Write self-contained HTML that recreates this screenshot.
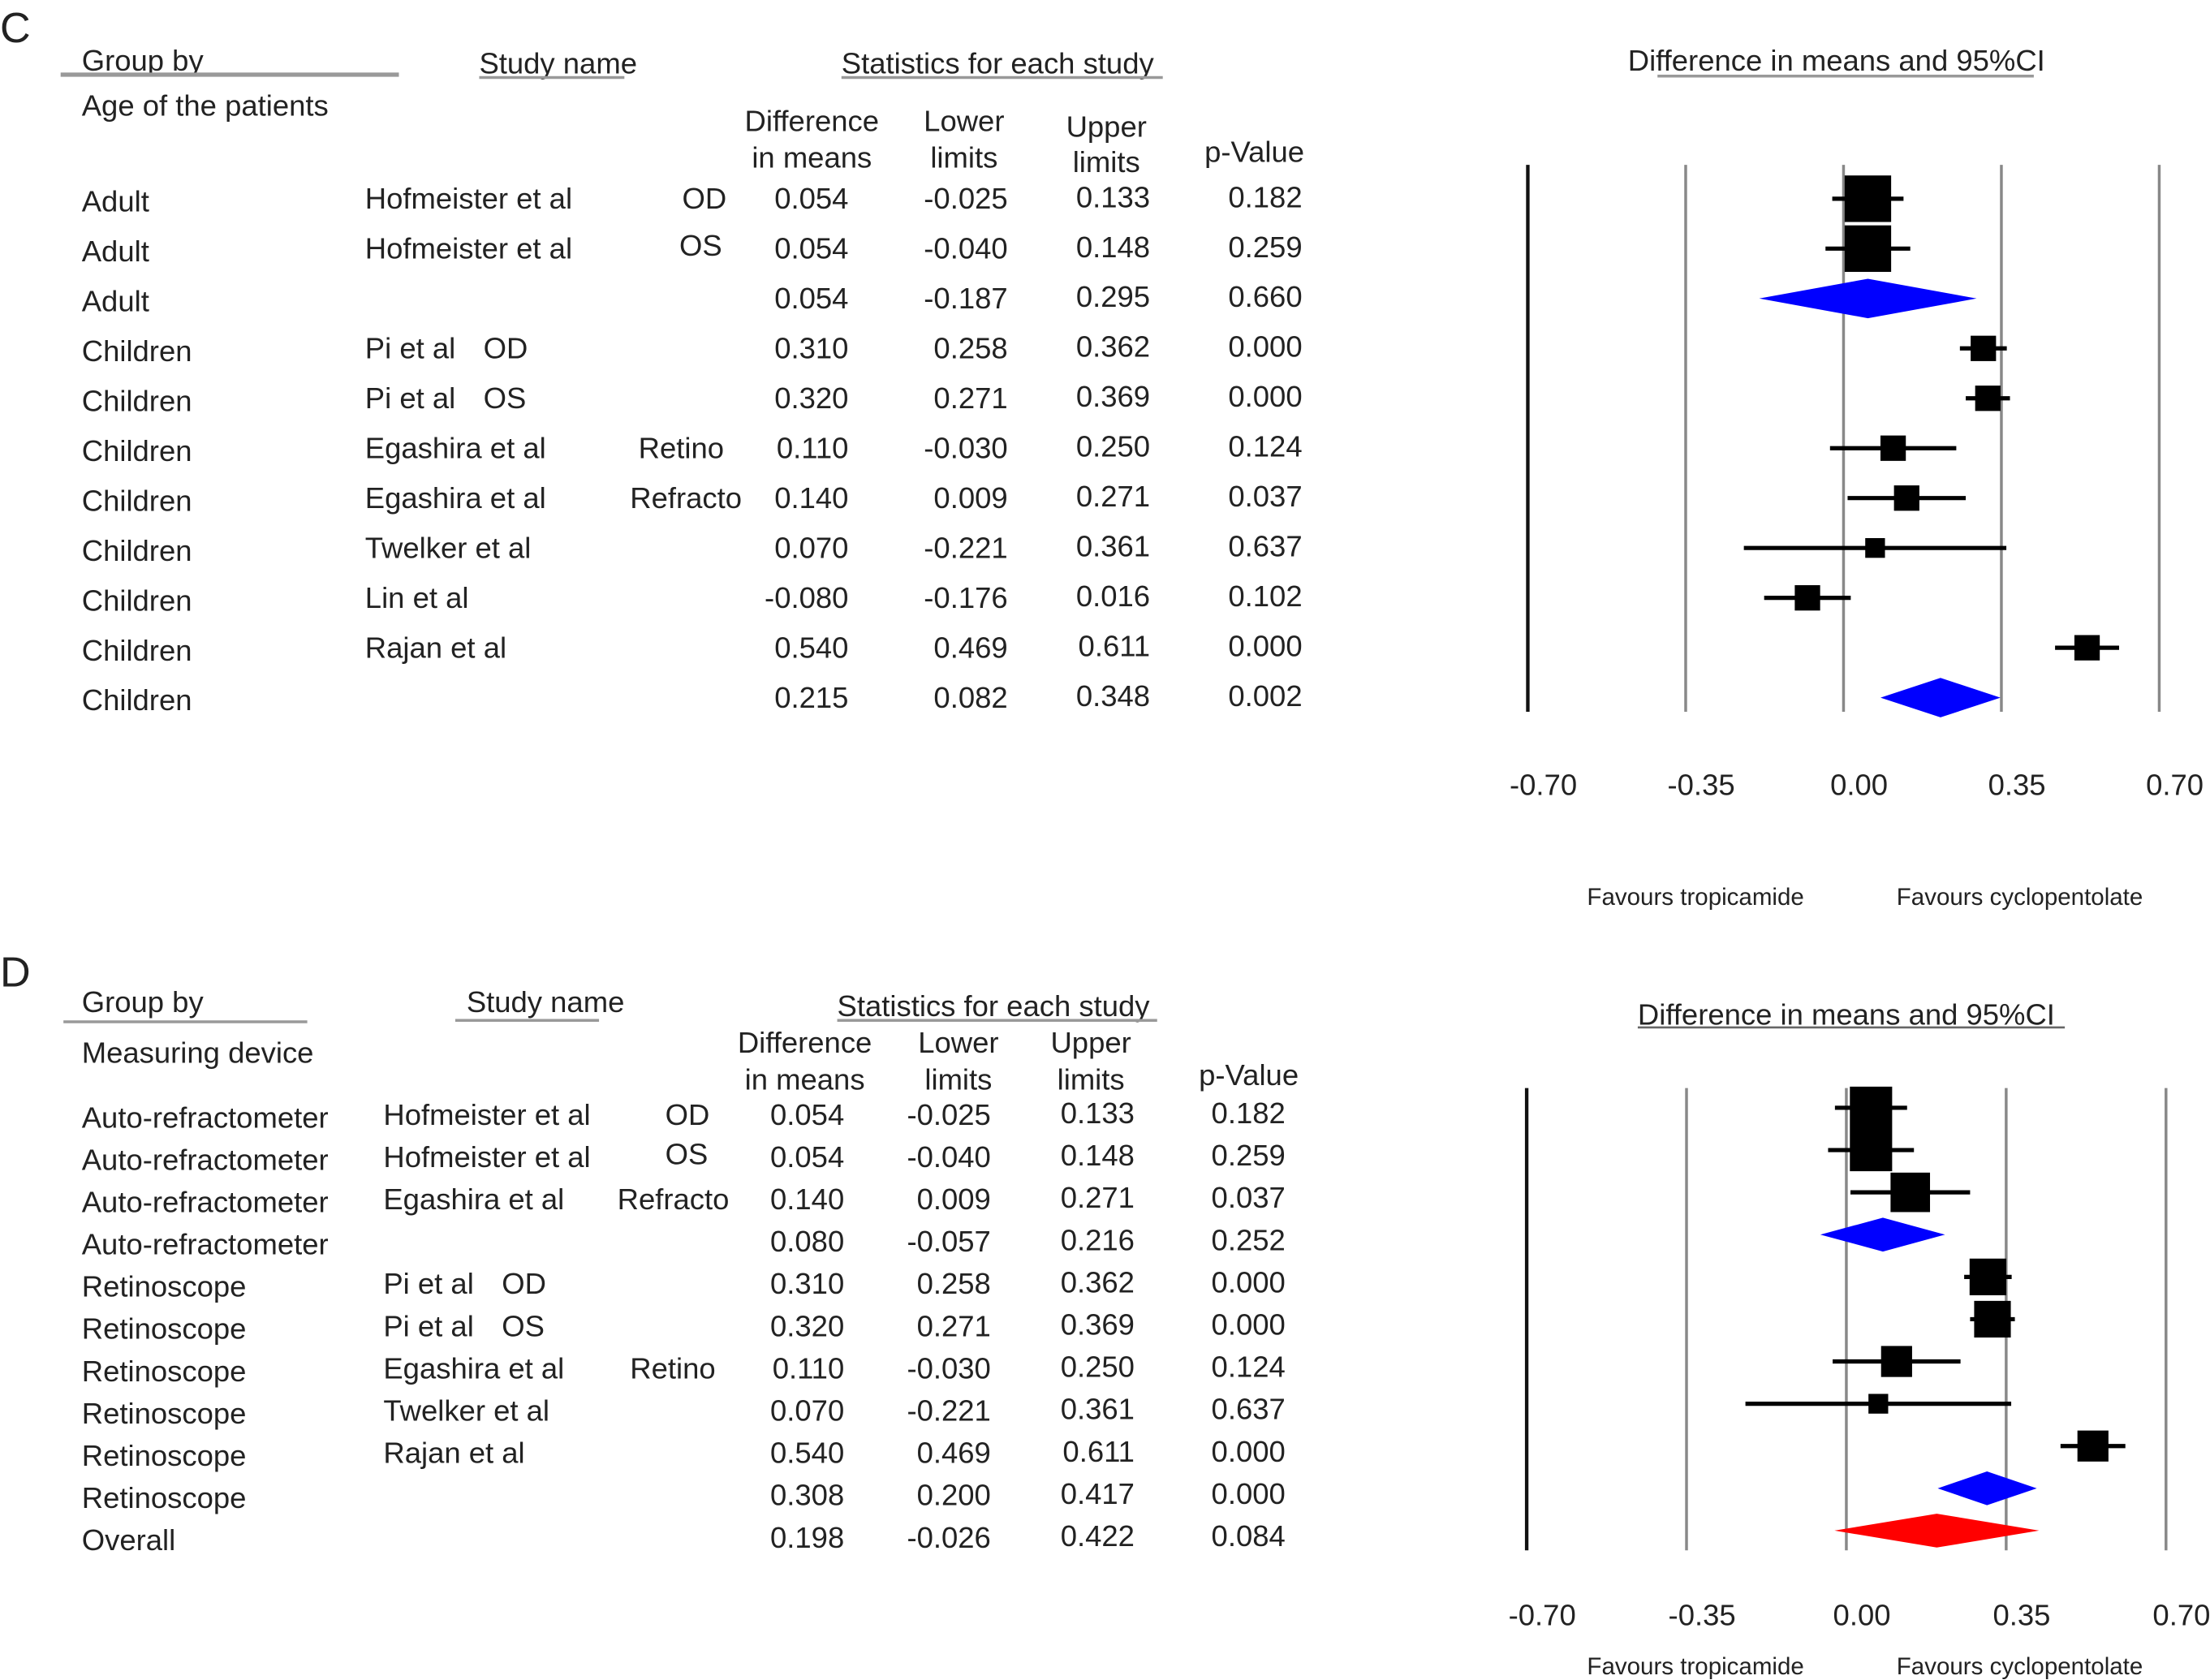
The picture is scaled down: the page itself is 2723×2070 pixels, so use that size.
<!DOCTYPE html>
<html><head><meta charset="utf-8"><style>
html,body{margin:0;padding:0;background:#fff;}
svg{display:block;font-family:"Liberation Sans",Arial,sans-serif;}
</style></head><body>
<svg id="chart" width="2723" height="2070" viewBox="0 0 1568 1192" xmlns="http://www.w3.org/2000/svg">
<g id="static" fill="#222" font-size="21">
<text x="0" y="30" font-size="30">C</text>
<text x="58" y="50">Group by</text>
<line x1="43" y1="53" x2="283" y2="53" stroke="#999" stroke-width="3"/>
<text x="58" y="82">Age of the patients</text>
<text x="340" y="52">Study name</text>
<line x1="340" y1="55" x2="443" y2="55" stroke="#999" stroke-width="2"/>
<text x="597" y="52">Statistics for each study</text>
<line x1="597" y1="55" x2="825" y2="55" stroke="#999" stroke-width="2"/>
<text x="576" y="93" text-anchor="middle">Difference</text><text x="576" y="119" text-anchor="middle">in means</text>
<text x="684" y="93" text-anchor="middle">Lower</text><text x="684" y="119" text-anchor="middle">limits</text>
<text x="785" y="97" text-anchor="middle">Upper</text><text x="785" y="122" text-anchor="middle">limits</text>
<text x="890" y="115" text-anchor="middle">p-Value</text>
<text x="1155" y="50">Difference in means and 95%CI</text>
<line x1="1176" y1="54" x2="1443" y2="54" stroke="#999" stroke-width="2"/>
<text x="1203" y="642" font-size="17" text-anchor="middle">Favours tropicamide</text>
<text x="1433" y="642" font-size="17" text-anchor="middle">Favours cyclopentolate</text>

<text x="0" y="700" font-size="30">D</text>
<text x="58" y="718">Group by</text>
<line x1="45" y1="725" x2="218" y2="725" stroke="#999" stroke-width="2"/>
<text x="58" y="754">Measuring device</text>
<text x="331" y="718">Study name</text>
<line x1="323" y1="724" x2="425" y2="724" stroke="#999" stroke-width="2"/>
<text x="594" y="721">Statistics for each study</text>
<line x1="594" y1="724" x2="821" y2="724" stroke="#999" stroke-width="2"/>
<text x="571" y="747" text-anchor="middle">Difference</text><text x="571" y="773" text-anchor="middle">in means</text>
<text x="680" y="747" text-anchor="middle">Lower</text><text x="680" y="773" text-anchor="middle">limits</text>
<text x="774" y="747" text-anchor="middle">Upper</text><text x="774" y="773" text-anchor="middle">limits</text>
<text x="886" y="770" text-anchor="middle">p-Value</text>
<text x="1162" y="727">Difference in means and 95%CI</text>
<line x1="1162" y1="729" x2="1465" y2="729" stroke="#666" stroke-width="1.5"/>
<text x="1203" y="1188" font-size="17" text-anchor="middle">Favours tropicamide</text>
<text x="1433" y="1188" font-size="17" text-anchor="middle">Favours cyclopentolate</text>
</g>
<g id="dyn"></g>
</svg>
<script>
const ticks = [-0.70, -0.35, 0.00, 0.35, 0.70];
const tickLabels = ["-0.70", "-0.35", "0.00", "0.35", "0.70"];
// Panel C
const cGroups = ["Adult","Adult","Adult","Children","Children","Children","Children","Children","Children","Children","Children"];
const cStudies = ["Hofmeister et al","Hofmeister et al","","Pi et al","Pi et al","Egashira et al","Egashira et al","Twelker et al","Lin et al","Rajan et al",""];
const cSub = ["OD","OS","","OD","OS","Retino","Refracto","","","",""];
const cDiff = [0.054,0.054,0.054,0.310,0.320,0.110,0.140,0.070,-0.080,0.540,0.215];
const cLower = [-0.025,-0.040,-0.187,0.258,0.271,-0.030,0.009,-0.221,-0.176,0.469,0.082];
const cUpper = [0.133,0.148,0.295,0.362,0.369,0.250,0.271,0.361,0.016,0.611,0.348];
const cP = ["0.182","0.259","0.660","0.000","0.000","0.124","0.037","0.637","0.102","0.000","0.002"];
const cWeight = [33,33,0,18,18,18,18,14,18,18,0];
const cKind = ["s","s","b","s","s","s","s","s","s","s","b"];
// Panel D
const dGroups = ["Auto-refractometer","Auto-refractometer","Auto-refractometer","Auto-refractometer","Retinoscope","Retinoscope","Retinoscope","Retinoscope","Retinoscope","Retinoscope","Overall"];
const dStudies = ["Hofmeister et al","Hofmeister et al","Egashira et al","","Pi et al","Pi et al","Egashira et al","Twelker et al","Rajan et al","",""];
const dSub = ["OD","OS","Refracto","","OD","OS","Retino","","","",""];
const dDiff = [0.054,0.054,0.140,0.080,0.310,0.320,0.110,0.070,0.540,0.308,0.198];
const dLower = [-0.025,-0.040,0.009,-0.057,0.258,0.271,-0.030,-0.221,0.469,0.200,-0.026];
const dUpper = [0.133,0.148,0.271,0.216,0.362,0.369,0.250,0.361,0.611,0.417,0.422];
const dP = ["0.182","0.259","0.037","0.252","0.000","0.000","0.124","0.637","0.000","0.000","0.084"];
const dWeight = [30,30,28,0,26,26,22,14,22,0,0];
const dKind = ["s","s","s","b","s","s","s","s","s","b","r"];

const NS="http://www.w3.org/2000/svg";
const root=document.getElementById('dyn');
function mk(tag,attrs,parent){const e=document.createElementNS(NS,tag);for(const k in attrs)e.setAttribute(k,attrs[k]);(parent||root).appendChild(e);return e;}
function txt(x,y,s,anchor,name){const t=mk('text',{x:x,y:y,'font-size':21,fill:'#222','text-anchor':anchor||'start'});t.textContent=s;


return t;}

function panel(p){
  const xs=v=>p.x0+v*p.ppu;
  ticks.forEach((t,i)=>{
    const l=mk('line',{x1:xs(t),x2:xs(t),y1:p.gTop,y2:p.gBot,stroke:i==0?'#111':'#888','stroke-width':i==0?2.5:2});
    
    
    txt(xs(t)+11,p.tickY,tickLabels[i],'middle','x-tick-label');
  });
  p.groups.forEach((g,i)=>{
    const y=p.row0+i*p.dy;
    txt(58,y+p.tOff,g,'start','group-label');
    if(p.studies[i]) txt(p.studyX,y+p.tOff-2,p.studies[i],'start','study-name');
    if(p.sub[i]){
      if(p.studies[i].startsWith('Pi')) txt(p.studyX+84,y+p.tOff-2,p.sub[i],'start','eye-label');
      else txt(p.subPos[p.sub[i]],y+p.tOff-2+(p.sub[i]=='OS'?-2:0),p.sub[i],'start','subgroup-label');
    }
    txt(p.cols[0],y+p.tOff-2,p.diff[i].toFixed(3),'end','diff-value');
    txt(p.cols[1],y+p.tOff-2,p.lower[i].toFixed(3),'end','lower-value');
    txt(p.cols[2],y+p.tOff-3,p.upper[i].toFixed(3),'end','upper-value');
    txt(p.cols[3],y+p.tOff-3,p.p[i],'end','p-value');
    const k=p.kind[i];
    if(k=='s'){
      const l=mk('line',{x1:xs(p.lower[i]),x2:xs(p.upper[i]),y1:y,y2:y,stroke:'#000','stroke-width':3});
      
      
      const w=p.weight[i];
      const r=mk('rect',{x:xs(p.diff[i])-w/2,y:y-w/2,width:w,height:w,fill:'#000'});
      
      
    } else {
      const h=p.dh, c=k=='b'?'#0000ff':'#ff0000';
      const d=mk('polygon',{points:`${xs(p.lower[i])},${y} ${xs(p.diff[i])},${y-h} ${xs(p.upper[i])},${y} ${xs(p.diff[i])},${y+h}`,fill:c});
      
      
    }
  });
}
panel({x0:1308,ppu:320,gTop:117,gBot:505,tickY:564,row0:141,dy:35.4,tOff:9,studyX:259,subPos:{OD:484,OS:482,Retino:453,Refracto:447},cols:[602,715,816,924],dh:14,
  groups:cGroups,studies:cStudies,sub:cSub,diff:cDiff,lower:cLower,upper:cUpper,p:cP,weight:cWeight,kind:cKind});
panel({x0:1310,ppu:324,gTop:772,gBot:1100,tickY:1153,row0:786,dy:30,tOff:14,studyX:272,subPos:{OD:472,OS:472,Retino:447,Refracto:438},cols:[599,703,805,912],dh:12,
  groups:dGroups,studies:dStudies,sub:dSub,diff:dDiff,lower:dLower,upper:dUpper,p:dP,weight:dWeight,kind:dKind});
</script>
</body></html>
